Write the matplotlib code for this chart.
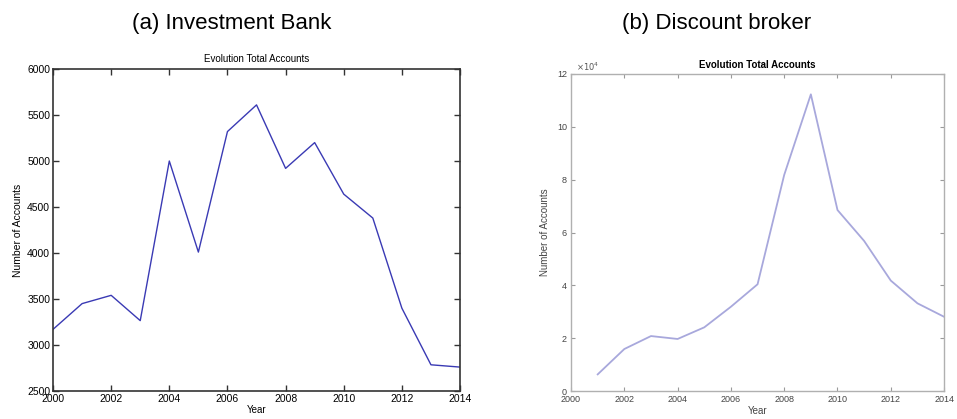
# Evolution of total accounts: investment bank vs discount broker

import numpy as np
import matplotlib
matplotlib.use('Agg')
import matplotlib.pyplot as plt
from matplotlib.ticker import FuncFormatter

plt.rcParams['font.family'] = ['Liberation Sans', 'DejaVu Sans']

# Data
years_a = [2000, 2001, 2002, 2003, 2004, 2005, 2006, 2007,
           2008, 2009, 2010, 2011, 2012, 2013, 2014]
accounts_a = [3170, 3450, 3540, 3265, 5000, 4010, 5320, 5610,
              4920, 5200, 4640, 4380, 3400, 2785, 2760]

years_b = [2001, 2002, 2003, 2004, 2005, 2006, 2007,
           2008, 2009, 2010, 2011, 2012, 2013, 2014]
accounts_b = [6300, 15900, 20800, 19700, 24100, 31900, 40400,
              81800, 112300, 68500, 56800, 41800, 33200, 28100]

year_ticks = [2000, 2002, 2004, 2006, 2008, 2010, 2012, 2014]

fig = plt.figure(figsize=(9.57, 4.19), dpi=100)

# (a) Investment Bank - old MATLAB look
ax1 = fig.add_axes([0.0554, 0.0668, 0.4253, 0.7685])
ax1.plot(years_a, accounts_a, color='#3a3ab4', linewidth=1.0)
ax1.set_xlim(2000, 2014)
ax1.set_ylim(2500, 6000)
ax1.set_xticks(year_ticks)
ax1.set_yticks(np.arange(2500, 6001, 500))
ax1.tick_params(direction='in', top=True, right=True, length=4, width=1,
                labelsize=7.5, color='#333333', pad=2)
for s in ax1.spines.values():
    s.set_color('#333333')
    s.set_linewidth(1.2)
ax1.set_title('Evolution Total Accounts', fontsize=7, pad=5)
ax1.set_xlabel('Year', fontsize=7, labelpad=1)
ax1.set_ylabel('Number of Accounts', fontsize=7.5, labelpad=3)

# (b) Discount broker - newer MATLAB look
grey = '#9a9a9a'
ax2 = fig.add_axes([0.5967, 0.0668, 0.3898, 0.7566])
ax2.plot(years_b, accounts_b, color='#a8a8dc', linewidth=1.3)
ax2.set_xlim(2000, 2014)
ax2.set_ylim(0, 120000)
ax2.set_xticks(year_ticks)
ax2.set_yticks(np.arange(0, 120001, 20000))
ax2.yaxis.set_major_formatter(FuncFormatter(lambda v, p: f'{v / 1e4:g}'))
ax2.text(0.012, 1.004, r'$\times10^4$', transform=ax2.transAxes,
         fontsize=6, color='#555555', ha='left', va='bottom')
ax2.tick_params(direction='in', top=True, right=True, length=3, width=0.8,
                labelsize=6.5, color=grey, labelcolor='#444444', pad=3)
for s in ax2.spines.values():
    s.set_color('#b0b0b0')
    s.set_linewidth(1.0)
ax2.set_title('Evolution Total Accounts', fontsize=7, fontweight='bold', pad=4)
ax2.set_xlabel('Year', fontsize=7, color='#444444', labelpad=1)
ax2.set_ylabel('Number of Accounts', fontsize=7, color='#444444', labelpad=5)

# Panel captions
fig.text(0.242, 0.945, '(a) Investment Bank', fontsize=16, ha='center', va='center')
fig.text(0.749, 0.945, '(b) Discount broker', fontsize=16, ha='center', va='center')

fig.savefig('out.png', dpi=100)
